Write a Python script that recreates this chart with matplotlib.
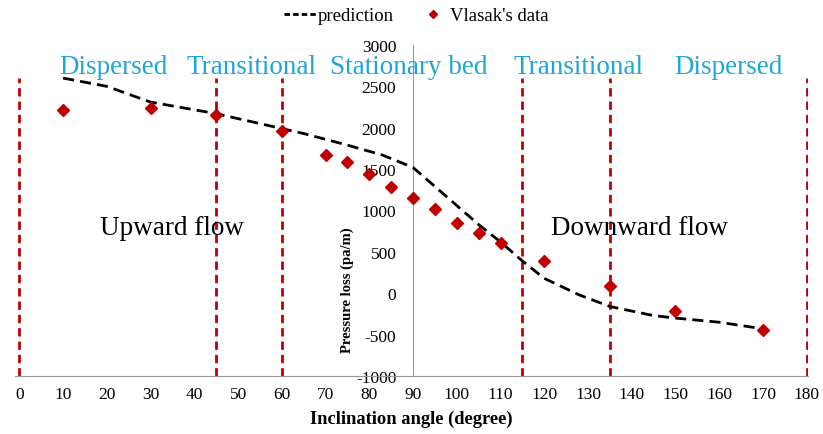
import numpy as np
import matplotlib
matplotlib.use('Agg')
import matplotlib.pyplot as plt
from matplotlib.lines import Line2D

plt.rcParams['font.family'] = ['Liberation Serif', 'DejaVu Serif']
plt.rcParams['axes.unicode_minus'] = False

# prediction curve
predAngle = [10, 20, 30, 45, 60, 65, 75, 83, 90, 95, 100, 105, 110, 115, 120, 128, 135, 145, 150, 160, 170]
predLoss = [2600, 2500, 2310, 2170, 1990, 1930, 1790, 1670, 1520, 1290, 1060, 830, 620, 390, 180, -20, -160, -270, -300, -350, -430]

# Vlasak's measurements
vAngle = [10, 30, 45, 60, 70, 75, 80, 85, 90, 95, 100, 105, 110, 120, 135, 150, 170]
vLoss = [2220, 2235, 2150, 1965, 1670, 1590, 1435, 1285, 1150, 1020, 850, 730, 610, 385, 85, -210, -440]

# regime boundaries and labels
bounds = [0, 45, 60, 115, 135, 180]
regimes = ['Dispersed', 'Transitional', 'Stationary bed', 'Transitional', 'Dispersed']
regimeX = [21.5, 53, 89, 127.8, 162.2]
flowNames = ['Upward flow', 'Downward flow']
flowX = [35, 141.7]

xTicks = np.arange(0, 181, 10)
yTicks = np.arange(-1000, 3001, 500)

fig = plt.figure(figsize=(8.23, 4.35), dpi=100)
ax = fig.add_axes([0.0182, 0.1333, 0.9636, 0.761])

red = '#c00000'
ax.vlines(bounds, -1000, 2600, colors=red, linestyles=(0, (3, 1.8)), lw=2, zorder=1)
ax.plot(predAngle, predLoss, color='black', ls=(0, (4, 2.2)), lw=2, zorder=3)
ax.plot(vAngle, vLoss, ls='none', marker='D', ms=6, color=red, zorder=4)

for name, x in zip(regimes, regimeX):
    ax.text(x, 2740, name, color='#1ea6d8', fontsize=19.5, ha='center', va='center')
for name, x in zip(flowNames, flowX):
    ax.text(x, 790, name, color='black', fontsize=19.5, ha='center', va='center')

ax.set_xlim(-1, 180.3)
ax.set_ylim(-1000, 3000)
ax.set_xticks(xTicks)
ax.set_yticks(yTicks)
ax.tick_params(length=0, labelsize=12.5, colors='black')
ax.tick_params(axis='x', pad=7)
ax.tick_params(axis='y', pad=12)

for s in ['top', 'right']:
    ax.spines[s].set_visible(False)
ax.spines['left'].set_position(('data', 90))
ax.spines['left'].set_color('#999999')
ax.spines['bottom'].set_color('#999999')

ax.set_xlabel('Inclination angle (degree)', fontsize=13.3, fontweight='bold', labelpad=6)
ax.set_ylabel('Pressure loss (pa/m)', fontsize=10.5, fontweight='bold')
ax.yaxis.set_label_coords(0.4275, 0.263)

# legend handles, short dashes like the original
hPred = Line2D([], [], color='black', ls=(0, (2, 1.1)), lw=2)
hData = Line2D([], [], color=red, ls='none', marker='D', ms=4.5)
fig.legend([hPred, hData], ['prediction', "Vlasak's data"], loc='center',
           bbox_to_anchor=(0.506, 0.962), ncol=2, frameon=False, fontsize=13.5,
           handlelength=1.76, handletextpad=0.05, columnspacing=1.2)

fig.savefig('out.png', dpi=100)
